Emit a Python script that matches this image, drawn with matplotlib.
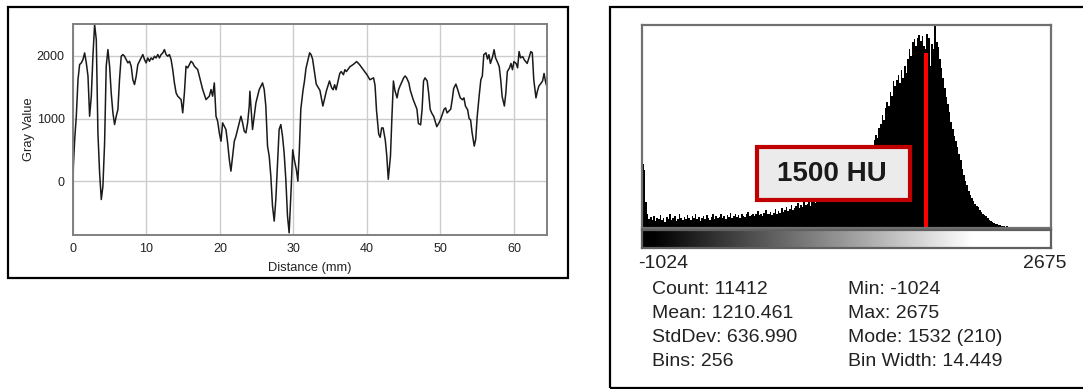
import numpy as np
import matplotlib
matplotlib.use('Agg')
import matplotlib.pyplot as plt
from matplotlib.patches import Rectangle

plt.rcParams['font.family'] = ['Liberation Sans', 'DejaVu Sans']

# profile plot data (distance in mm, gray value)
distance = [0.0, 0.05, 0.23, 0.45, 0.68, 0.90, 1.13, 1.36, 1.58, 1.81, 2.04, 2.26, 2.49, 2.71, 2.94,
            3.17, 3.39, 3.62, 3.85, 4.07, 4.30, 4.52, 4.75, 4.98, 5.20, 5.43, 5.66, 5.88, 6.11, 6.33,
            6.56, 6.79, 7.01, 7.24, 7.47, 7.69, 7.92, 8.14, 8.37, 8.60, 8.82, 9.05, 9.28, 9.50, 9.73,
            9.95, 10.18, 10.41, 10.63, 10.86, 11.09, 11.31, 11.54, 11.76, 11.99, 12.22, 12.44, 12.67,
            12.90, 13.12, 13.35, 13.57, 13.80, 14.03, 14.25, 14.48, 14.71, 14.93, 15.16, 15.38, 15.61,
            15.84, 16.06, 16.29, 16.52, 16.74, 16.97, 17.19, 17.42, 17.65, 17.87, 18.10, 18.33, 18.55,
            18.78, 19.00, 19.23, 19.46, 19.68, 19.91, 20.14, 20.36, 20.59, 20.81, 21.04, 21.27, 21.49,
            21.72, 21.95, 22.17, 22.40, 22.62, 22.85, 23.08, 23.30, 23.53, 23.76, 23.98, 24.07, 24.21,
            24.43, 24.66, 24.89, 25.11, 25.34, 25.57, 25.79, 26.02, 26.24, 26.47, 26.70, 26.92, 27.15,
            27.38, 27.60, 27.83, 28.05, 28.28, 28.51, 28.73, 28.96, 29.19, 29.41, 29.7, 29.9, 30.1,
            30.4, 30.6, 30.8, 31.0, 31.3, 31.5, 31.7, 32.2, 32.4, 32.6, 33.1, 33.6, 34.0, 34.2, 34.5,
            34.9, 35.2, 35.4, 35.6, 35.8, 36.3, 36.5, 36.8, 37.0, 37.2, 37.7, 38.1, 38.6, 39.0, 39.5,
            40.0, 40.4, 40.9, 41.1, 41.3, 41.6, 41.8, 42.0, 42.2, 42.5, 42.7, 42.9, 43.2, 43.4, 43.6,
            43.8, 44.1, 44.3, 44.5, 44.8, 45.0, 45.2, 45.4, 45.7, 45.9, 46.3, 46.8, 47.0, 47.3, 47.5,
            47.7, 47.9, 48.2, 48.4, 48.6, 48.8, 49.1, 49.5, 49.8, 50.0, 50.5, 50.7, 50.9, 51.4, 51.6,
            51.8, 52.1, 52.3, 52.7, 53.0, 53.2, 53.4, 53.7, 53.9, 54.1, 54.3, 54.6, 54.8, 55.0, 55.3,
            55.5, 55.7, 55.9, 56.2, 56.4, 56.6, 56.8, 57.1, 57.3, 57.5, 57.8, 58.0, 58.2, 58.4, 58.7,
            58.9, 59.1, 59.4, 59.6, 59.8, 60.0, 60.3, 60.5, 60.7, 60.9, 61.2, 61.4, 61.6, 61.8, 62.1,
            62.3, 62.5, 62.7, 63.0, 63.2, 63.4, 63.6, 63.9, 64.1, 64.3, 64.5]
gray_value = [0, 250, 665, 1037, 1623, 1862, 1889, 1942, 2048, 1889, 1676, 1037, 1357, 1995, 2500,
              2261, 771, 133, -293, -80, 612, 1835, 2101, 1835, 1410, 1091, 904, 1037, 1144, 1623,
              1995, 2022, 1995, 1942, 1889, 1915, 1835, 1623, 1543, 1676, 1862, 1915, 1968, 2022, 1942,
              1889, 1968, 1915, 1968, 1942, 1995, 1968, 2022, 1968, 2022, 2048, 2101, 2022,
              1995, 2022, 1942, 1782, 1569, 1410, 1357, 1330, 1303, 1091, 1410, 1835, 1809,
              1862, 1915, 1889, 1835, 1809, 1782, 1676, 1569, 1463, 1383, 1303, 1330, 1357,
              1463, 1357, 1569, 1037, 958, 771, 638, 931, 878, 825, 612, 346, 160,
              399, 638, 718, 825, 931, 1037, 931, 798, 771, 931, 1197, 1436, 1197,
              825, 1037, 1250, 1357, 1463, 1516, 1569, 1463, 1197, 559, 399, 80, -399,
              -638, -293, 293, 825, 904, 718, 452, 27, -559, -825, -80, 500, 350,
              180, 0, 500, 1150, 1450, 1600, 1800, 2050, 2020, 1950, 1550, 1450, 1200, 1300, 1450,
              1600, 1490, 1460, 1540, 1460, 1720, 1750, 1700, 1780, 1750, 1830, 1860, 1910, 1860, 1780,
              1700, 1620, 1650, 1530, 1130, 750, 700, 850, 850, 650, 400, 30, 400, 1030, 1600,
              1450, 1330, 1460, 1520, 1600, 1650, 1680, 1650, 1570, 1450, 1300, 1150, 920, 900, 1140,
              1600, 1650, 1600, 1400, 1150, 1090, 1030, 870, 930, 980, 1150, 1170, 1090, 1150, 1300,
              1480, 1550, 1480, 1330, 1300, 1330, 1200, 1140, 1000, 980, 780, 560, 670, 1030, 1400,
              1620, 1680, 2020, 2050, 1950, 2020, 1880, 1990, 2100, 1970, 1890, 1830, 1620, 1350, 1200,
              1410, 1750, 1810, 1880, 1780, 1910, 1880, 1810, 2070, 1970, 1990, 1940, 1910, 1880, 1990,
              2070, 2050, 1620, 1330, 1440, 1520, 1550, 1600, 1720, 1590, 1500]

# histogram data (256 bins from -1024 to 2675)
hist_min = -1024
hist_max = 2675
bin_width = 14.449
counts = [66, 60, 27, 14, 9, 11, 8, 12, 7, 10,
          9, 13, 8, 10, 6, 11, 9, 14, 8, 10,
          12, 7, 9, 15, 10, 8, 11, 9, 13, 10,
          8, 12, 10, 14, 9, 11, 7, 10, 12, 9,
          13, 10, 8, 11, 15, 9, 12, 10, 11, 14,
          10, 12, 9, 13, 11, 16, 10, 12, 14, 11,
          13, 10, 15, 12, 11, 14, 17, 12, 13, 15,
          12, 14, 18, 13, 15, 12, 16, 19, 14, 15,
          17, 13, 16, 20, 15, 18, 16, 21, 17, 19,
          22, 18, 20, 24, 19, 21, 23, 26, 21, 24,
          22, 27, 24, 25, 29, 23, 27, 30, 26, 28,
          31, 27, 29, 33, 30, 28, 34, 31, 36, 32,
          35, 38, 33, 37, 40, 36, 42, 39, 44, 41,
          46, 50, 47, 53, 56, 52, 59, 63, 60, 67,
          70, 74, 72, 80, 85, 91, 96, 93, 103, 108,
          117, 112, 124, 130, 126, 141, 137, 152, 147, 153,
          158, 150, 163, 155, 168, 160, 175, 185, 178, 192,
          195, 188, 197, 200, 193, 199, 188, 185, 201, 197,
          168, 190, 185, 210, 192, 187, 175, 165, 155, 145,
          135, 128, 120, 110, 102, 95, 90, 84, 77, 70,
          61, 55, 49, 44, 38, 34, 31, 28, 25, 23,
          22, 19, 17, 15, 13, 12, 10, 8, 7, 6,
          5, 4, 4, 3, 3, 2, 2, 1, 2, 1,
          1, 0, 1, 1, 0, 1, 0, 1, 0, 0,
          0, 0, 0, 0, 0, 0, 0, 0, 0, 0,
          0, 0, 0, 0, 0, 0]
marker_hu = 1545
marker_height = 181
stats_left = ['Count: 11412', 'Mean: 1210.461', 'StdDev: 636.990', 'Bins: 256']
stats_right = ['Min: -1024', 'Max: 2675', 'Mode: 1532 (210)', 'Bin Width: 14.449']

W, H = 1083, 389
fig = plt.figure(figsize=(W / 100, H / 100), dpi=100)


def box(x0, y0, x1, y1):
    # pixel box (top-left origin) -> figure fraction rect
    return [x0 / W, 1 - y1 / H, (x1 - x0) / W, (y1 - y0) / H]


# panel frames
for (x0, y0, x1, y1) in [(8, 7, 568, 278), (610, 7, 1095, 388)]:
    r = box(x0, y0, x1, y1)
    fig.patches.append(Rectangle((r[0], r[1]), r[2], r[3], transform=fig.transFigure,
                                 fill=False, edgecolor='black', lw=1.6, clip_on=False))

# ---- profile plot ----
ax = fig.add_axes(box(73, 24, 547, 235))
ax.plot(distance, gray_value, color='#1a1a1a', lw=1.1)
ax.set_xlim(0, 64.5)
ax.set_ylim(-860, 2510)
ax.set_xticks([0, 10, 20, 30, 40, 50, 60])
ax.set_yticks([0, 1000, 2000])
ax.grid(True, color='#cccccc', lw=1)
ax.set_axisbelow(True)
ax.tick_params(length=0, labelsize=9, pad=6, colors='#222222')
for s in ax.spines.values():
    s.set_color('#808080')
    s.set_linewidth(1.4)
ax.set_xlabel('Distance (mm)', fontsize=9.3, labelpad=5, color='#222222')
ax.set_ylabel('Gray Value', fontsize=9.3, labelpad=1.5, color='#222222')

# ---- histogram ----
edges = hist_min + bin_width * np.arange(len(counts) + 1)
hx = fig.add_axes(box(642, 25, 1051, 228))
hx.stairs(counts, edges, fill=True, color='black', lw=0)
hx.bar([marker_hu], [marker_height], width=38, color='#ff0000', lw=0)
hx.set_xlim(hist_min, hist_max)
hx.set_ylim(0, 210)
hx.set_xticks([])
hx.set_yticks([])
for s in hx.spines.values():
    s.set_color('#707070')
    s.set_linewidth(1.6)

# gradient bar
gx = fig.add_axes(box(642, 230, 1051, 248))
ramp = np.linspace(hist_min, hist_max, 512).reshape(1, -1)
gx.imshow(ramp, cmap='gray', vmin=-930, vmax=1970, aspect='auto',
          extent=[hist_min, hist_max, 0, 1])
gx.set_xticks([])
gx.set_yticks([])
for s in gx.spines.values():
    s.set_color('#606060')
    s.set_linewidth(1.6)

# label box
r = box(757, 147, 910, 200)
fig.patches.append(Rectangle((r[0], r[1]), r[2], r[3], transform=fig.transFigure,
                             facecolor='#ebebeb', edgecolor='#c00000', lw=3, zorder=5))
fig.text(832 / W, 1 - 174 / H, '1500 HU', fontsize=20, fontweight='bold',
         ha='center', va='center', color='#1a1a1a', zorder=6)

# range labels and stats
fig.text(638 / W, 1 - 263 / H, str(hist_min), fontsize=14, ha='left', va='center', color='#222222')
fig.text(1067 / W, 1 - 263 / H, str(hist_max), fontsize=14, ha='right', va='center', color='#222222')
for i, (a, b) in enumerate(zip(stats_left, stats_right)):
    y = 1 - (290 + 24 * i) / H
    fig.text(652 / W, y, a, fontsize=14, ha='left', va='center', color='#222222')
    fig.text(848 / W, y, b, fontsize=14, ha='left', va='center', color='#222222')

fig.savefig('out.png', dpi=100)
